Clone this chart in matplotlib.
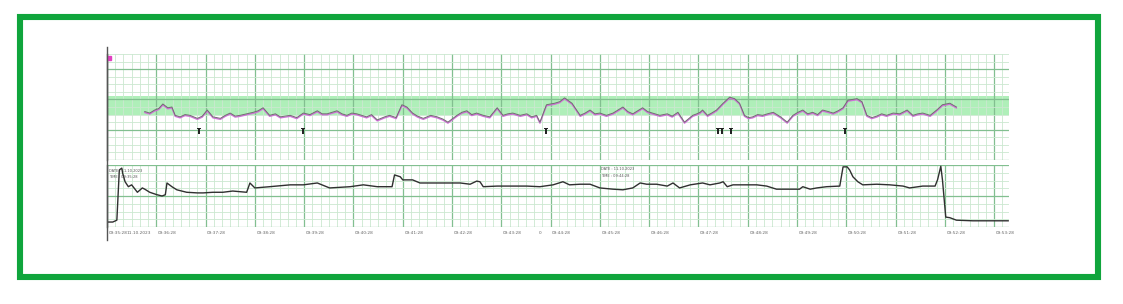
import matplotlib
matplotlib.use("Agg")
import matplotlib.pyplot as plt
import matplotlib.transforms as mtransforms
from matplotlib.patches import Rectangle
import numpy as np

# fetal heart rate trace: seconds since 09:35:28, bpm
fhr_t = [46, 52, 58, 63, 68, 74, 79, 83, 89, 95, 101, 110, 116, 122, 129, 138, 144, 150,
         156, 162, 170, 178, 184, 190, 198, 205, 211, 223, 231, 239, 247, 256, 262, 268,
         280, 286, 292, 298, 304, 316, 322, 329, 338, 344, 352, 359, 365, 372, 378, 385,
         394, 402, 409, 415, 426, 432, 438, 444, 450, 458, 466, 475, 482, 488, 494, 503,
         511, 517, 523, 527, 535, 545, 551, 557, 566, 576, 582, 588, 594, 600, 608, 616,
         622, 628, 634, 640, 646, 652, 658, 664, 673, 682, 688, 695, 703, 713, 718, 722,
         725, 731, 736, 742, 750, 758, 764, 770, 776, 781, 786, 792, 798, 804, 811, 820,
         828, 835, 841, 847, 853, 859, 865, 871, 878, 884, 890, 896, 902, 913, 919, 925,
         931, 937, 943, 949, 957, 965, 974, 981, 987, 993, 1002, 1010, 1017, 1026, 1034]
fhr_bpm = [124, 122, 126, 128, 134, 129, 130, 119, 117, 120, 119, 115, 118, 126, 117, 115,
           119, 122, 118, 119, 121, 123, 125, 129, 119, 121, 117, 119, 116, 122, 120, 125,
           121, 121, 125, 121, 119, 122, 121, 117, 120, 113, 117, 119, 116, 133, 130, 122,
           118, 115, 119, 117, 114, 110, 119, 123, 125, 120, 122, 119, 117, 129, 119, 121,
           122, 119, 121, 117, 119, 110, 133, 135, 137, 142, 135, 119, 122, 126, 121, 122,
           119, 122, 126, 130, 124, 121, 125, 129, 124, 122, 119, 121, 118, 123, 110, 119,
           121, 123, 126, 119, 122, 126, 135, 143, 141, 135, 119, 116, 117, 120, 119, 121,
           123, 117, 110, 119, 123, 126, 121, 123, 120, 126, 124, 122, 125, 129, 139, 141,
           137, 119, 116, 118, 121, 119, 122, 121, 126, 119, 121, 122, 119, 126, 133, 135,
           130]

# uterine activity trace: seconds, relative units
toco_t = [1, 7, 12, 15, 18, 19, 22, 26, 30, 37, 43, 46, 52, 61, 67, 71, 73, 79, 85, 97,
          110, 117, 129, 141, 153, 170, 174, 180, 198, 223, 239, 256, 271, 296, 312, 329,
          347, 350, 357, 360, 372, 381, 393, 405, 417, 430, 442, 450, 454, 458, 475, 494,
          511, 527, 543, 555, 563, 576, 588, 600, 616, 628, 640, 649, 657, 669, 682, 689,
          697, 710, 725, 734, 746, 750, 755, 762, 791, 803, 815, 831, 843, 847, 856, 864,
          876, 892, 896, 901, 904, 908, 914, 920, 937, 953, 969, 977, 993, 1008, 1011,
          1015, 1017, 1021, 1026, 1034, 1054, 1097]
toco_val = [8, 8, 11, 92, 95, 87, 73, 65, 68, 56, 63, 61, 56, 52, 50, 52, 71, 65, 60, 56,
            55, 55, 56, 56, 58, 56, 71, 63, 65, 68, 68, 71, 63, 65, 68, 65,
            65, 84, 81, 76, 76, 71, 71, 71, 71, 71, 69, 74, 73, 65, 66, 66,
            66, 65, 68, 73, 68, 69, 69, 63, 61, 60, 63, 71, 69, 69, 66, 71,
            63, 68, 71, 68, 71, 73, 65, 68, 68, 66, 61, 61, 61, 65, 61, 63,
            65, 66, 97, 97, 92, 81, 73, 68, 69, 68, 66, 63, 66, 66, 76,
            98, 76, 16, 15, 11, 10, 10]

# event marks (seconds)
event_t = [112, 239, 534, 744, 749, 760, 898]

tick_sec = list(range(0, 1081, 60))
tick_labels = ["09:35:28", "09:36:28", "09:37:28", "09:38:28", "09:39:28", "09:40:28",
               "09:41:28", "09:42:28", "09:43:28", "09:44:28", "09:45:28", "09:46:28",
               "09:47:28", "09:48:28", "09:49:28", "09:50:28", "09:51:28", "09:52:28",
               "09:53:28"]

x_end = 1098
W, H = 1123, 304
minor_col = "#cbe8d0"
major_col = "#82bf90"

fig = plt.figure(figsize=(W / 100, H / 100), dpi=100)
fig.patch.set_facecolor("white")


def frac(x0, y0, x1, y1):
    return [x0 / W, 1 - y1 / H, (x1 - x0) / W, (y1 - y0) / H]


def paper_grid(ax, ymin, ymax, ystep, ymajor):
    for x in np.arange(0, x_end + 0.1, 10):
        major = int(round(x)) % 60 == 0
        ax.axvline(x, color=major_col if major else minor_col,
                   lw=0.9 if major else 0.6, zorder=1)
    for y in np.arange(ymin, ymax + 0.1, ystep):
        major = (y - ymin) % ymajor == 0
        ax.axhline(y, color=major_col if major else minor_col,
                   lw=0.9 if major else 0.6, zorder=1)
    ax.set_xlim(0, x_end)
    ax.set_ylim(ymin, ymax)
    ax.set_xticks([])
    ax.set_yticks([])
    for s in ["top", "right", "bottom"]:
        ax.spines[s].set_visible(False)
    ax.spines["left"].set_color("#555555")
    ax.spines["left"].set_linewidth(1.0)


# FHR panel
ax1 = fig.add_axes(frac(107, 54, 1009, 160))
paper_grid(ax1, 60, 200, 10, 40)
ax1.axhspan(120, 145, color="#95eaa2", alpha=0.75, zorder=0.5, lw=0)
shift = mtransforms.offset_copy(ax1.transData, fig=fig, x=0, y=-1, units="dots")
ax1.plot(fhr_t, fhr_bpm, color="#d070d8", lw=1.0, transform=shift, zorder=3)
ax1.plot(fhr_t, fhr_bpm, color="#707070", lw=0.7, zorder=4)
ax1.scatter(event_t, [98] * len(event_t), marker=r"$\mathbf{T}$", s=14,
            color="#222222", zorder=5, linewidths=0)
ax1.plot([2], [195], marker="s", ms=3, color="#e040c0", zorder=5)

# TOCO panel
ax2 = fig.add_axes(frac(107, 165, 1009, 227))
paper_grid(ax2, 0, 100, 12.5, 50)
ax2.plot(toco_t, toco_val, color="#303030", lw=1.0, zorder=4)
ax2.text(3, 94, "DATE : 11.10.2023", fontsize=2.6, color="#555555", va="top")
ax2.text(3, 84, "TIME : 09:35:28", fontsize=2.6, color="#555555", va="top")
ax2.text(601, 96, "DATE : 11.10.2023", fontsize=2.6, color="#555555", va="top")
ax2.text(601, 86, "TIME : 09:44:28", fontsize=2.6, color="#555555", va="top")

for t, lab in zip(tick_sec, tick_labels):
    ax2.text(t + 2, -6, lab, fontsize=3.1, color="#666666", ha="left", va="top")
ax2.text(24, -6, "11.10.2023", fontsize=3.1, color="#666666", ha="left", va="top")
ax2.text(526, -6, "0", fontsize=3.1, color="#666666", ha="left", va="top")

# left axis line running down past the panels
fig.add_artist(plt.Line2D([107 / W, 107 / W], [1 - 240 / H, 1 - 47 / H],
                          color="#555555", lw=1.0))

# green frame
fig.add_artist(Rectangle((20 / W, 1 - 276.5 / H), 1078 / W, 260 / H,
                         transform=fig.transFigure, fill=False,
                         edgecolor="#10a53c", lw=4.4))

fig.savefig("out.png", dpi=100, facecolor="white")
